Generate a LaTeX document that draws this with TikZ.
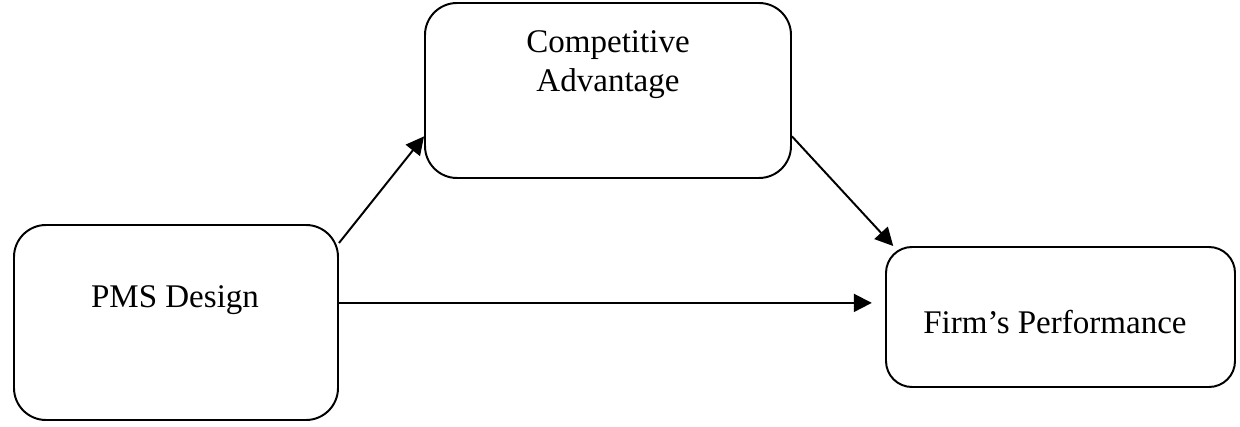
\documentclass[tikz,border=0pt]{standalone}
\usepackage{fontspec}
\setmainfont{Liberation Serif}
\usetikzlibrary{arrows.meta}
\begin{document}
\begin{tikzpicture}[
    box/.style={draw, line width=1.4pt, rounded corners=0.8cm},
    arr/.style={line width=1.4pt, -{Triangle[length=0.45cm,width=0.45cm]}},
    lbl/.style={align=center, font=\fontsize{23.5}{28.2}\selectfont}]
        \useasboundingbox (0,0) rectangle (31,10.65);
        \node[box, minimum width=8.1cm, minimum height=4.875cm] (pms) at (4.4,2.5875) {};
        \node[box, minimum width=9.15cm, minimum height=4.375cm] (ca) at (15.2,8.3875) {};
        \node[box, rounded corners=0.65cm, minimum width=8.725cm, minimum height=3.5cm] (fp) at (26.5125,2.725) {};
        \node[lbl] (pmstext) at (4.375,3.15) {PMS Design};
        \node[lbl] (catext) at (15.2,9.03) {Competitive\\Advantage};
        \node[lbl] (fptext) at (26.375,2.6) {Firm’s Performance};
        \draw[arr] (pms.26) -- (ca.194.5);
        \draw[arr] (ca.-14.3) -- (fp.157);
        \draw[arr, shorten >=0.33cm] (pms.east) ++(0,0.49) coordinate (hs) -- (hs -| fp.west);
    \end{tikzpicture}
\end{document}
